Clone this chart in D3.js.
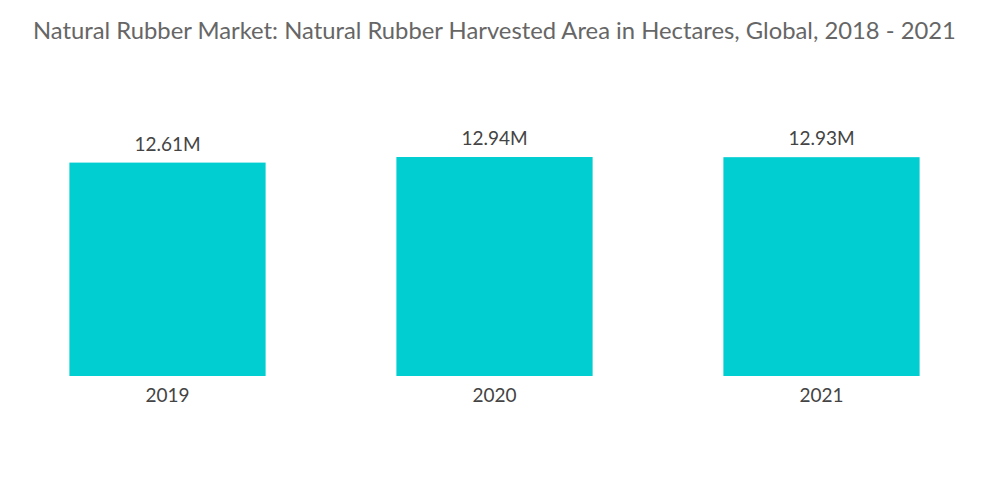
<!DOCTYPE html>
<html><head><meta charset="utf-8">
<script src="https://cdn.jsdelivr.net/npm/d3@7"></script>
<style>body{margin:0;background:#fff;}svg{display:block;font-family:Lato,"Open Sans",sans-serif;}</style>
</head><body>
<svg id="chart" width="1000" height="504"></svg>
<script>
const title = "Natural Rubber Market: Natural Rubber Harvested Area in Hectares, Global, 2018 - 2021";
const years = ["2019", "2020", "2021"];
const values = [12.61, 12.94, 12.93];
const valueLabels = ["12.61M", "12.94M", "12.93M"];

const svg = d3.select("#chart");
const x = d3.scaleBand().domain(years).range([4, 985]).paddingInner(0.4).paddingOuter(0.2);
const y = d3.scaleLinear().domain([0, 13]).range([376, 156]);

svg.append("text").attr("x", 33).attr("y", 39).attr("fill", "#666")
  .style("font-size", "23.8px").text(title);

svg.selectAll("rect.bar").data(years).enter().append("rect")
  .attr("class", "bar")
  .attr("x", d => x(d)).attr("width", x.bandwidth())
  .attr("y", (d, i) => y(values[i])).attr("height", (d, i) => y(0) - y(values[i]))
  .attr("fill", "#00CED1");

svg.selectAll("text.val").data(years).enter().append("text")
  .attr("class", "val")
  .attr("x", d => x(d) + x.bandwidth() / 2)
  .attr("y", (d, i) => y(values[i]) - 12)
  .attr("text-anchor", "middle").attr("fill", "#444").style("font-size", "19px")
  .text((d, i) => valueLabels[i]);

const xAxis = d3.axisBottom(x).tickSize(0).tickPadding(13);
const gx = svg.append("g").attr("transform", "translate(0,376)").call(xAxis);
gx.select(".domain").remove();
gx.selectAll("text").attr("fill", "#444").style("font-size", "19px").style("font-family", "Lato,'Open Sans',sans-serif");
</script>
</body></html>
